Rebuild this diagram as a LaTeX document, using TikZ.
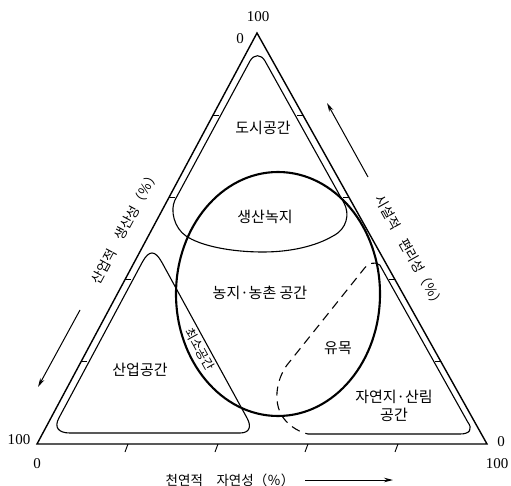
\documentclass[tikz,border=0pt]{standalone}
\usepackage{fontspec}
\setmainfont{Liberation Serif}
\newfontfamily\kr{Noto Sans CJK KR}
\usetikzlibrary{calc,arrows.meta}
\begin{document}
\begin{tikzpicture}[x=1pt,y=-1pt,
  edge/.style={line width=1.4pt, line join=miter},
  region/.style={line width=1.1pt, line join=round},
  farm/.style={line width=2.1pt},
  lbl/.style={font=\kr\fontsize{15}{18}\selectfont, inner sep=0pt},
  strip/.style={font=\kr\fontsize{12.5}{14}\selectfont, inner sep=0pt},
  num/.style={font=\fontsize{15}{17}\selectfont, inner sep=0pt},
  axis/.style={font=\kr\fontsize{13.5}{16}\selectfont, inner sep=0pt},
  tick/.style={line width=0.9pt},
  arr/.style={line width=1pt, -{Stealth[length=9pt,width=4.5pt]}}
]
\useasboundingbox (0,0) rectangle (511,486);
% outer triangle
\coordinate (A) at (257,33);
\coordinate (B) at (37,444);
\coordinate (C) at (487,444);
\draw[edge] (A) -- (B) -- (C) -- cycle;
% ticks
\foreach \t in {0.2,0.4,0.6,0.8}{
  \draw[tick] ($(A)!\t!(B)$) -- ++(6,0);
  \draw[tick] ($(A)!\t!(C)$) -- ++(-6,0);
  \draw[tick] ($(B)!\t!(C)$) ++(-2,8) -- ++(3,-8);
}
% urban region
\draw[region] (175,200) -- (250,61) .. controls (254,54) and (261,54) .. (265,61)
  -- (344,203) .. controls (350,214) and (347,229) .. (333,236)
  .. controls (316,246) and (291,252) .. (263,252)
  .. controls (231,252) and (201,246) .. (186,236)
  .. controls (174,228) and (170,210) .. (175,200) -- cycle;
% industrial region
\draw[region] (142.4,262) .. controls (149,250) and (155,250) .. (161.7,262)
  -- (247,418) .. controls (251,425) and (251,433) .. (240,433)
  -- (70,433) .. controls (58,433) and (54,427) .. (58.9,418) -- cycle;
% natural region
\draw[region] (308,434) -- (460,434) .. controls (470,434) and (473,429) .. (467.7,422)
  -- (379.8,265);
\draw[region, dash pattern=on 9pt off 6pt] (379.8,265) .. controls (374,261) and (368,263) .. (363,270)
  -- (287,365) .. controls (276,380) and (272,405) .. (285,420)
  .. controls (292,428) and (300,432) .. (308,434);
% farm circle
\draw[farm] (278,294) ellipse [x radius=102pt, y radius=122pt];
% numbers
\node[num] (n1) at (258,17) {100};
\node[num] (n2) at (240,39) {0};
\node[num] (n3) at (19,440) {100};
\node[num] (n4) at (37,464) {0};
\node[num] (n5) at (501,442) {0};
\node[num] (n6) at (497,464) {100};
% region labels
\node[lbl] (urban) at (263,128) {도시공간};
\node[lbl] (green) at (265,217) {생산녹지};
\node[lbl] (farmtxt) at (260,293) {농지·농촌 공간};
\node[lbl] (ind) at (140,370) {산업공간};
\node[lbl] (graze) at (338,348) {유목};
\node[lbl, align=center] (nat) at (394,406) {자연지·산림\\공간};
\node[strip, rotate=-61] (striptxt) at (200,349) {최소공간};
% axis labels
\node[axis, rotate=61.8] (yl) at (125,227) {산업적\hspace{0.9em}생산성（％）};
\node[axis, rotate=-60.8] (yr) at (410,252) {시설적\hspace{0.9em}편리성（％）};
\node[axis] (xl) at (230,480) {천연적\hspace{1em}자연성（％）};
% arrows
\coordinate (la1) at (80,310); \coordinate (la2) at (38,387);
\draw[arr] (la1) -- (la2);
\coordinate (ra1) at (368,177); \coordinate (ra2) at (327,103);
\draw[arr] (ra1) -- (ra2);
\coordinate (ba1) at (305,480); \coordinate (ba2) at (393,480);
\draw[arr] (ba1) -- (ba2);
\end{tikzpicture}
\end{document}
